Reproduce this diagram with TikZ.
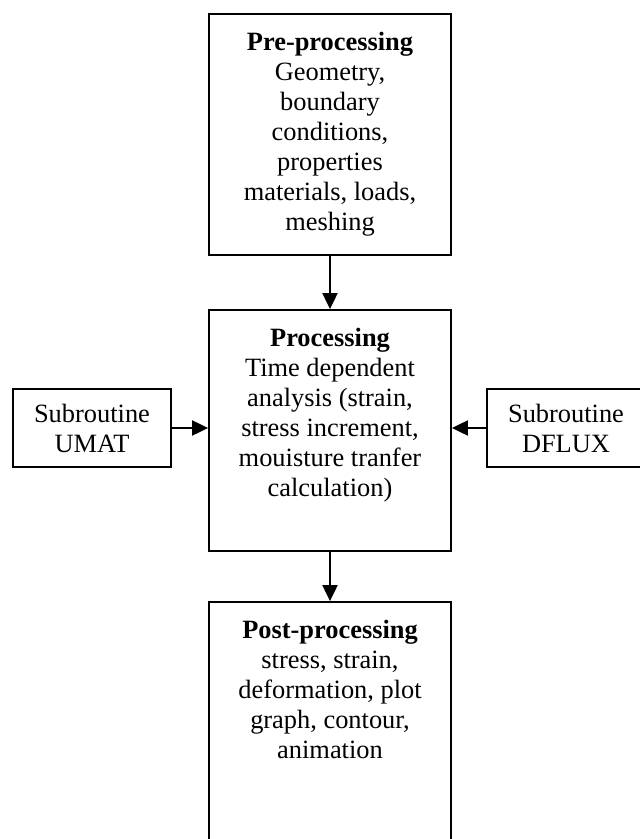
\documentclass[tikz,border=0pt]{standalone}
\usepackage{fontspec}
\setmainfont{Liberation Serif}
\usetikzlibrary{arrows.meta}
\newcommand{\stagetext}[2]{\parbox[t][120.5pt][t]{121pt}{\centering\vspace*{9pt}\textbf{#1}\\#2}}

\begin{document}
\begin{tikzpicture}[x=0.5pt,y=-0.5pt,
		stage/.style={draw,line width=0.9pt,inner sep=0pt,font=\fontsize{13.2}{15}\selectfont},
		subbox/.style={draw,line width=0.9pt,inner sep=0pt,minimum width=79pt,minimum height=39pt,align=center,font=\fontsize{13.2}{15}\selectfont},
		flow/.style={line width=1pt,-{Triangle[length=8pt,width=7.5pt]}}]
			\useasboundingbox (0,0) rectangle (640,839);
			\node[stage] (pre) at (330,134.5) {\stagetext{Pre-processing}{Geometry,\\boundary\\conditions,\\properties\\materials, loads,\\meshing}};
			\node[stage] (proc) at (330,430.5) {\stagetext{Processing}{Time dependent\\analysis (strain,\\stress increment,\\mouisture tranfer\\calculation)}};
			\node[stage] (post) at (330,722.5) {\stagetext{Post-processing}{stress, strain,\\deformation, plot\\graph, contour,\\animation}};
			\node[subbox] (umat) at (92,428) {Subroutine\\UMAT};
			\node[subbox] (dflux) at (566,428) {Subroutine\\DFLUX};
			\draw[flow] (pre) -- (proc);
			\draw[flow] (proc) -- (post);
			\draw[flow] (umat.east) -- (umat.east -| proc.west);
			\draw[flow] (dflux.west) -- (dflux.west -| proc.east);
		\end{tikzpicture}
\end{document}
